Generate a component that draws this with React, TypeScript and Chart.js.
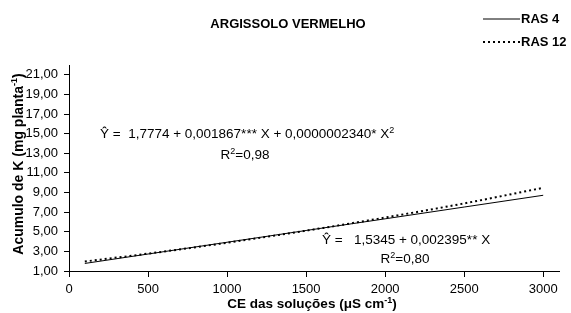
import React, { useEffect, useRef } from "react";
import { Chart, registerables } from "chart.js";

Chart.register(...registerables);

const xValues = [100, 500, 1000, 1500, 2000, 2500, 3000];
const ras4 = [1.77, 2.73, 3.93, 5.13, 6.32, 7.52, 8.72];
const ras12 = [1.97, 2.77, 3.88, 5.11, 6.45, 7.89, 9.48];
const seriesLabels = ["RAS 4", "RAS 12"];
const xTicks = [0, 500, 1000, 1500, 2000, 2500, 3000];
const yTicks = [1, 3, 5, 7, 9, 11, 13, 15, 17, 19, 21];

const FONT = "'Liberation Sans', Arial, sans-serif";

function drawSup(ctx: CanvasRenderingContext2D, parts: [string, boolean][], x: number, y: number, size: number, bold: boolean, align: "left" | "center") {
  const w = bold ? "bold " : "";
  let total = 0;
  for (const [t, sup] of parts) {
    ctx.font = `${w}${sup ? Math.round(size * 0.65) : size}px ${FONT}`;
    total += ctx.measureText(t).width;
  }
  let cx = align === "center" ? x - total / 2 : x;
  ctx.textAlign = "left";
  ctx.textBaseline = "alphabetic";
  for (const [t, sup] of parts) {
    ctx.font = `${w}${sup ? Math.round(size * 0.65) : size}px ${FONT}`;
    ctx.fillText(t, cx, sup ? y - size * 0.4 : y);
    cx += ctx.measureText(t).width;
  }
}

const decor = {
  id: "decor",
  afterDraw(chart: any) {
    const ctx = chart.ctx as CanvasRenderingContext2D;
    ctx.save();
    ctx.fillStyle = "#000";
    // title
    ctx.font = `bold 13px ${FONT}`;
    ctx.textAlign = "center";
    ctx.textBaseline = "middle";
    ctx.fillText("ARGISSOLO VERMELHO", 288, 24);
    // legend
    const ds = chart.data.datasets;
    const rows = [19, 42];
    ds.forEach((d: any, i: number) => {
      ctx.beginPath();
      ctx.strokeStyle = "#000";
      ctx.lineWidth = d.borderWidth;
      ctx.setLineDash(d.borderDash || []);
      ctx.moveTo(483, rows[i]);
      ctx.lineTo(520, rows[i]);
      ctx.stroke();
      ctx.setLineDash([]);
      ctx.font = `bold 13px ${FONT}`;
      ctx.textAlign = "left";
      ctx.textBaseline = "middle";
      ctx.fillText(d.label, 521, rows[i]);
    });
    // equations
    drawSup(ctx, [["Ŷ =  1,7774 + 0,001867*** X + 0,0000002340* X", false], ["2", true]], 100, 138, 13.5, false, "left");
    drawSup(ctx, [["R", false], ["2", true], ["=0,98", false]], 245, 159, 13.5, false, "center");
    drawSup(ctx, [["Ŷ =   1,5345 + 0,002395** X", false]], 322, 244, 13.5, false, "left");
    drawSup(ctx, [["R", false], ["2", true], ["=0,80", false]], 405, 263, 13.5, false, "center");
    // x title
    drawSup(ctx, [["CE das soluções (μS cm", false], ["-1", true], [")", false]], 312, 308, 13.5, true, "center");
    // y title
    ctx.save();
    ctx.translate(23, 164);
    ctx.rotate(-Math.PI / 2);
    drawSup(ctx, [["Acumulo de K (mg planta", false], ["-1", true], [")", false]], 0, 0, 14, true, "center");
    ctx.restore();
    ctx.restore();
  },
};

export default function App() {
  const ref = useRef<HTMLCanvasElement>(null);
  useEffect(() => {
    if (!ref.current) return;
    const chart = new Chart(ref.current, {
      type: "line",
      data: {
        datasets: [
          {
            label: seriesLabels[0],
            data: xValues.map((x, i) => ({ x, y: ras4[i] })),
            borderColor: "#000",
            borderWidth: 1,
            pointRadius: 0,
            fill: false,
          },
          {
            label: seriesLabels[1],
            data: xValues.map((x, i) => ({ x, y: ras12[i] })),
            borderColor: "#000",
            borderWidth: 2,
            borderDash: [2, 3],
            pointRadius: 0,
            fill: false,
            cubicInterpolationMode: "monotone",
          },
        ],
      },
      plugins: [decor],
      options: {
        animation: false,
        responsive: false,
        devicePixelRatio: 1,
        layout: { padding: { top: 65, right: 12, left: 0, bottom: 0 } },
        plugins: { legend: { display: false }, tooltip: { enabled: false } },
        scales: {
          x: {
            type: "linear",
            min: 0,
            max: 3100,
            afterBuildTicks: (s: any) => { s.ticks = xTicks.map((v) => ({ value: v })); },
            afterFit: (s: any) => { s.height = 42; },
            grid: { drawOnChartArea: false, drawTicks: true, tickLength: 6, color: "#000" },
            border: { display: true, color: "#000", width: 1 },
            ticks: {
              color: "#000",
              font: { family: FONT, size: 13 },
              padding: 5,
              maxRotation: 0,
              callback: (v: any) => String(v),
            },
          },
          y: {
            type: "linear",
            min: 1,
            max: 22,
            afterBuildTicks: (s: any) => { s.ticks = yTicks.map((v) => ({ value: v })); },
            afterFit: (s: any) => { s.width = 69; },
            grid: { drawOnChartArea: false, drawTicks: true, tickLength: 5, color: "#000" },
            border: { display: true, color: "#000", width: 1 },
            ticks: {
              color: "#000",
              font: { family: FONT, size: 13 },
              padding: 6,
              callback: (v: any) => Number(v).toFixed(2).replace(".", ","),
            },
          },
        },
      },
    });
    return () => chart.destroy();
  }, []);
  return (
    <div style={{ position: "fixed", left: 0, top: 0, width: 571, height: 313, background: "#fff" }}>
      <canvas ref={ref} width={571} height={313} style={{ width: 571, height: 313 }} />
    </div>
  );
}
